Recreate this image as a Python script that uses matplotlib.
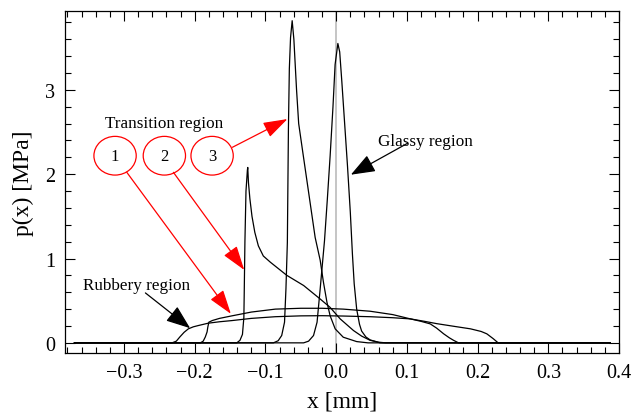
import matplotlib
matplotlib.use("Agg")
import matplotlib.pyplot as plt
from matplotlib.patches import Ellipse
from matplotlib.ticker import MultipleLocator, FuncFormatter

# pressure profiles p(x) (x in mm, p in MPa)
rubbery_x = [-0.37, -0.232, -0.226, -0.221, -0.215, -0.209, -0.202, -0.195, -0.181,
             -0.165, -0.1475, -0.12, -0.086, -0.05, -0.02, 0.01, 0.048, 0.08, 0.105,
             0.125, 0.142, 0.165, 0.19, 0.205, 0.213, 0.222, 0.229, 0.3875]
rubbery_y = [0, 0, 0.02, 0.07, 0.125, 0.166, 0.19, 0.205, 0.233,
             0.25, 0.264, 0.29, 0.31, 0.32, 0.322, 0.318, 0.31, 0.298, 0.284,
             0.255, 0.228, 0.198, 0.166, 0.135, 0.107, 0.05, 0, 0]

trans1_x = [-0.37, -0.192, -0.188, -0.185, -0.1825, -0.1815, -0.18, -0.175, -0.165,
            -0.1475, -0.12, -0.086, -0.05, -0.02, 0.01, 0.048, 0.08, 0.105, 0.12,
            0.133, 0.142, 0.152, 0.16, 0.166, 0.173, 0.3875]
trans1_y = [0, 0, 0.02, 0.07, 0.13, 0.185, 0.245, 0.265, 0.29,
            0.32, 0.365, 0.40, 0.41, 0.41, 0.40, 0.375, 0.335, 0.284, 0.255,
            0.225, 0.175, 0.107, 0.06, 0.03, 0, 0]

trans2_x = [-0.37, -0.1405, -0.136, -0.1325, -0.1305, -0.130, -0.129, -0.1275, -0.1255,
            -0.125, -0.124, -0.122, -0.119, -0.115, -0.11, -0.103, -0.093, -0.0697,
            -0.046, -0.0226, -0.0085, 0.0057, 0.0245, 0.036, 0.048, 0.06, 0.07, 0.3875]
trans2_y = [0, 0, 0.03, 0.10, 0.3, 0.58, 1.2, 1.8, 2.05,
            2.08, 1.90, 1.71, 1.5, 1.31, 1.15, 1.03, 0.956, 0.80,
            0.68, 0.52, 0.42, 0.284, 0.146, 0.08, 0.03, 0.008, 0, 0]

trans3_x = [-0.37, -0.0887, -0.082, -0.077, -0.073, -0.071, -0.069, -0.0675, -0.0662,
            -0.0645, -0.0622, -0.0598, -0.056, -0.053, -0.047, -0.038, -0.0297, -0.0226,
            -0.018, -0.013, -0.0085, -0.0014, 0.010, 0.029, 0.045, 0.3875]
trans3_y = [0, 0, 0.025, 0.087, 0.245, 0.64, 1.19, 2.54, 3.25,
            3.62, 3.82, 3.6, 3.0, 2.6, 2.25, 1.73, 1.25, 0.98,
            0.72, 0.48, 0.32, 0.166, 0.067, 0.015, 0, 0]

glassy_x = [-0.37, -0.046, -0.039, -0.032, -0.027, -0.0226, -0.0165, -0.0125, -0.0085,
            -0.0045, -0.0015, 0.0024, 0.005, 0.008, 0.012, 0.016, 0.020, 0.023,
            0.0255, 0.029, 0.033, 0.036, 0.042, 0.048, 0.062, 0.3875]
glassy_y = [0, 0, 0.02, 0.087, 0.245, 0.64, 1.21, 1.7, 2.22,
            2.8, 3.3, 3.55, 3.45, 3.1, 2.6, 2.1, 1.55, 1.05,
            0.7, 0.4, 0.22, 0.14, 0.07, 0.035, 0, 0]

curves = [(rubbery_x, rubbery_y), (trans1_x, trans1_y), (trans2_x, trans2_y),
          (trans3_x, trans3_y), (glassy_x, glassy_y)]

plt.rcParams["font.family"] = ["Liberation Serif", "DejaVu Serif"]

fig = plt.figure(figsize=(6.33, 4.14), dpi=100)
ax = fig.add_axes([0.102, 0.145, 0.876, 0.827])

ax.axvline(0, color="#c0c0c0", lw=1.3, zorder=0)
for cx, cy in curves:
    ax.plot(cx, cy, color="black", lw=0.9)

ax.set_xlim(-0.384, 0.400)
ax.set_ylim(-0.12, 3.94)

ax.xaxis.set_major_locator(MultipleLocator(0.1))
ax.xaxis.set_minor_locator(MultipleLocator(0.02))
ax.yaxis.set_major_locator(MultipleLocator(1))
ax.yaxis.set_minor_locator(MultipleLocator(0.2))
ax.xaxis.set_major_formatter(FuncFormatter(lambda v, p: f"{v:.1f}".replace("-", "\u2212")))
ax.yaxis.set_major_formatter(FuncFormatter(lambda v, p: f"{v:.0f}"))
ax.tick_params(which="both", direction="in", top=True, right=True, labelsize=14.5)
ax.tick_params(which="major", length=7, width=0.8, pad=7)
ax.tick_params(which="minor", length=4, width=0.8)
for s in ax.spines.values():
    s.set_linewidth(0.9)

ax.set_xlabel("x [mm]", fontsize=17, labelpad=6)
ax.set_ylabel("p(x) [MPa]", fontsize=17, labelpad=8)

# annotations
ax.text(-0.2434, 2.607, "Transition region", fontsize=12.3, ha="center", va="center")
for ex, num in zip([-0.3126, -0.2429, -0.1754], ["1", "2", "3"]):
    ax.add_patch(Ellipse((ex, 2.219), 0.0598, 0.459, fill=False, edgecolor="red", lw=0.9))
    ax.text(ex, 2.219, num, fontsize=12, ha="center", va="center")

red_style = dict(arrowstyle="-|>,head_length=1.0,head_width=0.33", mutation_scale=15,
                 color="red", lw=0.9, shrinkA=0, shrinkB=0)
ax.annotate("", xy=(-0.1489, 0.344), xytext=(-0.296, 2.022), arrowprops=red_style)
ax.annotate("", xy=(-0.130, 0.865), xytext=(-0.2301, 2.022), arrowprops=red_style)
ax.annotate("", xy=(-0.0689, 2.654), xytext=(-0.1467, 2.319), arrowprops=red_style)

black_style = dict(arrowstyle="-|>,head_length=1.0,head_width=0.38", mutation_scale=15,
                   color="black", lw=0.9, shrinkA=0, shrinkB=0)
ax.text(0.1263, 2.397, "Glassy region", fontsize=12.3, ha="center", va="center")
ax.annotate("", xy=(0.0208, 1.994), xytext=(0.1008, 2.366), arrowprops=black_style)
ax.text(-0.2829, 0.691, "Rubbery region", fontsize=12.3, ha="center", va="center")
ax.annotate("", xy=(-0.2065, 0.174), xytext=(-0.2697, 0.592), arrowprops=black_style)

fig.savefig("out.png", dpi=100)
